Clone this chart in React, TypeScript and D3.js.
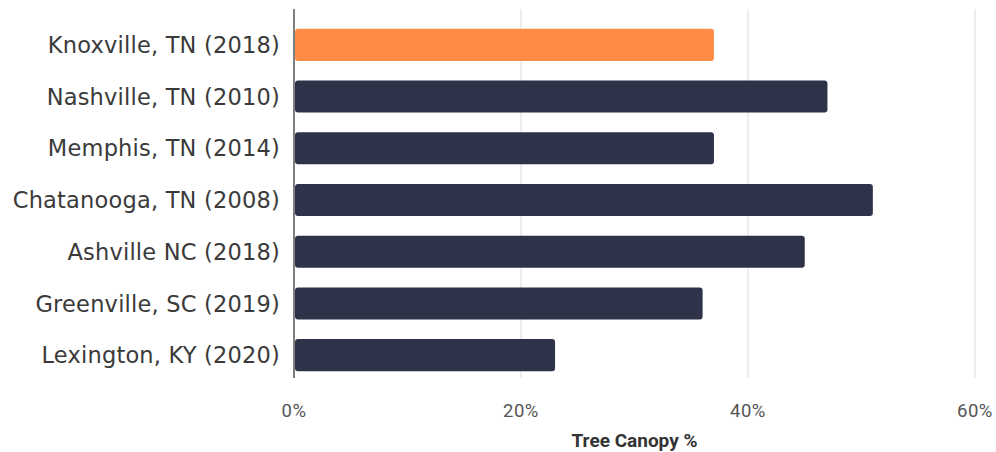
import React from "react";
import * as d3 from "d3";

const categories = [
  "Knoxville, TN (2018)",
  "Nashville, TN (2010)",
  "Memphis, TN (2014)",
  "Chatanooga, TN (2008)",
  "Ashville NC (2018)",
  "Greenville, SC (2019)",
  "Lexington, KY (2020)",
];
const values = [37, 47, 37, 51, 45, 36, 23];
const highlight = [true, false, false, false, false, false, false];
const xTicks = [0, 20, 40, 60];
const xTitle = "Tree Canopy %";

const W = 996;
const H = 452;

export default function App() {
  const x = d3.scaleLinear().domain([0, 60]).range([294, 975]);
  const y = d3.scaleBand<string>().domain(categories).range([19, 381]).paddingInner(0.38).paddingOuter(0.19);
  const plotTop = 9;
  const plotBottom = 378;
  return (
    <svg width={W} height={H} style={{ position: "absolute", left: 0, top: 0, background: "#fff" }}>
      {xTicks.map((t) => (
        <line key={"g" + t} x1={x(t)} x2={x(t)} y1={plotTop} y2={plotBottom} stroke={t === 0 ? "#555" : "#dcdcdc"} strokeWidth={t === 0 ? 1.5 : 1} />
      ))}
      {categories.map((c, i) => (
        <rect
          key={c}
          x={x(0) + 1}
          y={y(c)}
          width={x(values[i]) - x(0) - 1}
          height={y.bandwidth()}
          rx={3}
          fill={highlight[i] ? "#ff8c45" : "#2e3349"}
        />
      ))}
      {categories.map((c) => (
        <text
          key={"l" + c}
          x={280}
          y={(y(c) ?? 0) + y.bandwidth() / 2}
          dy="0.36em"
          textAnchor="end"
          fontFamily="DejaVu Sans"
          fontSize={22.5}
          letterSpacing={0.2}
          fill="#3a3a3a"
        >
          {c}
        </text>
      ))}
      {xTicks.map((t) => (
        <text key={"t" + t} x={x(t)} y={411} dy="0.35em" textAnchor="middle" fontFamily="Roboto" fontSize={18.5} letterSpacing={0.5} fill="#555">
          {t + "%"}
        </text>
      ))}
      <text x={(x(0) + x(60)) / 2} y={440} dy="0.35em" textAnchor="middle" fontFamily="Roboto" fontWeight="bold" fontSize={19} fill="#333">
        {xTitle}
      </text>
    </svg>
  );
}
